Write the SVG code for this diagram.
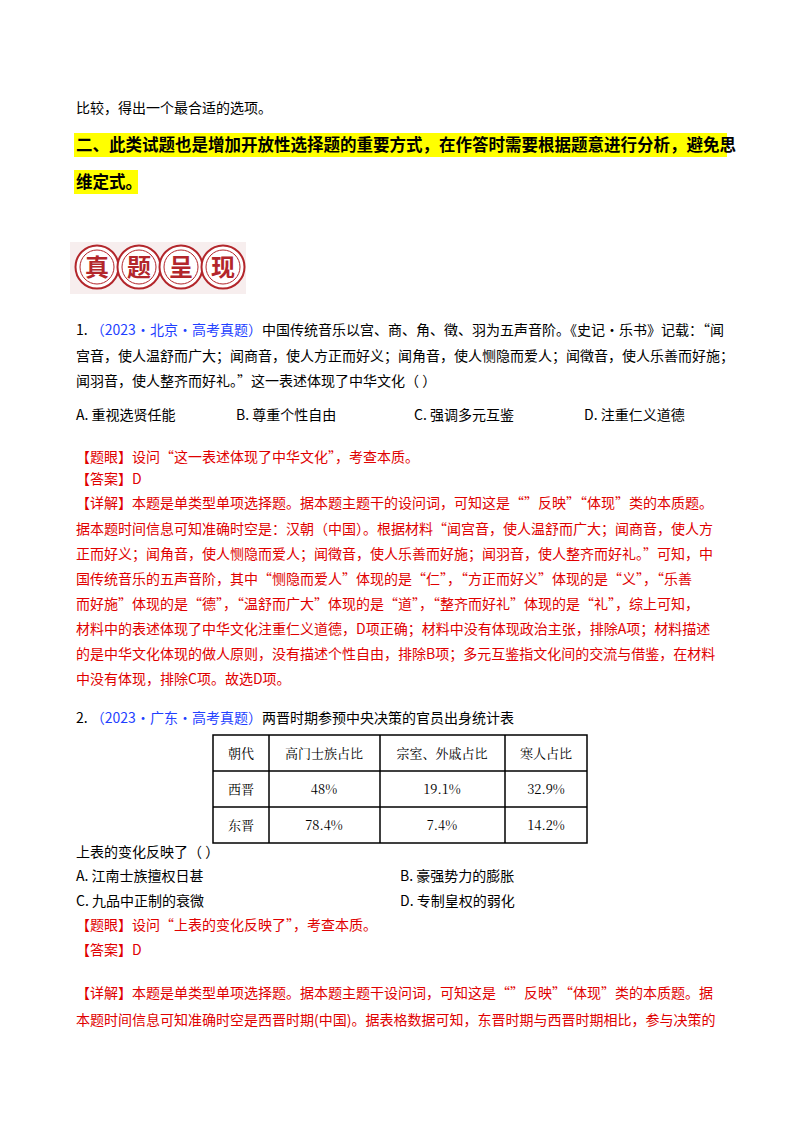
<svg xmlns="http://www.w3.org/2000/svg" width="800" height="1132" viewBox="0 0 800 1132">
<style>
text{font-family:"Noto Sans CJK SC","Liberation Sans",sans-serif;font-size:14px;fill:#000}
.r{fill:#e00000}.b{fill:#1f3fff}.hb{font-weight:bold;font-size:16.5px}
.tb{font-family:"Noto Serif CJK SC","Noto Sans CJK SC",serif;font-size:13px}
.c{fill:#fff;stroke:#b3262b;stroke-width:2}
.c2{fill:none;stroke:#b3262b;stroke-width:1}
.lt{font-size:24px;font-weight:bold;fill:#b3262b}
</style>
<rect width="800" height="1132" fill="#fff"/>
<text x="76" y="113">比较，得出一个最合适的选项。</text>
<rect x="74" y="133" width="653" height="24" fill="#ffff00"/>
<rect x="74" y="170" width="64" height="24" fill="#ffff00"/>
<text x="76" y="151" class="hb">二、此类试题也是增加开放性选择题的重要方式，在作答时需要根据题意进行分析，避免思</text>
<text x="76" y="188" class="hb">维定式。</text>
<g id="logo">
<rect x="70" y="242" width="176" height="52" fill="#f7eeee"/>
<circle cx="97" cy="267" r="21.5" class="c"/><circle cx="97" cy="267" r="17" class="c2"/>
<circle cx="139" cy="267" r="21.5" class="c"/><circle cx="139" cy="267" r="17" class="c2"/>
<circle cx="181" cy="267" r="21.5" class="c"/><circle cx="181" cy="267" r="17" class="c2"/>
<circle cx="223" cy="267" r="21.5" class="c"/><circle cx="223" cy="267" r="17" class="c2"/>
<text x="97" y="276" class="lt" text-anchor="middle">真</text>
<text x="139" y="276" class="lt" text-anchor="middle">题</text>
<text x="181" y="276" class="lt" text-anchor="middle">呈</text>
<text x="223" y="276" class="lt" text-anchor="middle">现</text>
</g>
<text x="76" y="335">1.  <tspan class="b">（2023·北京·高考真题）</tspan>中国传统音乐以宫、商、角、徵、羽为五声音阶。《史记·乐书》记载：“闻</text>
<text x="76" y="361">宫音，使人温舒而广大；闻商音，使人方正而好义；闻角音，使人恻隐而爱人；闻徵音，使人乐善而好施；</text>
<text x="76" y="386">闻羽音，使人整齐而好礼。”这一表述体现了中华文化（  ）</text>
<text x="76" y="420">A. 重视选贤任能</text><text x="236" y="420">B. 尊重个性自由</text><text x="414" y="420">C. 强调多元互鉴</text><text x="584" y="420">D. 注重仁义道德</text>
<text x="76" y="462" class="r">【题眼】设问“这一表述体现了中华文化”，考查本质。</text>
<text x="76" y="484" class="r">【答案】D</text>
<text x="76" y="508" class="r">【详解】本题是单类型单项选择题。据本题主题干的设问词，可知这是“”反映”“体现”类的本质题。</text>
<text x="76" y="534" class="r">据本题时间信息可知准确时空是：汉朝（中国）。根据材料“闻宫音，使人温舒而广大；闻商音，使人方</text>
<text x="76" y="559" class="r">正而好义；闻角音，使人恻隐而爱人；闻徵音，使人乐善而好施；闻羽音，使人整齐而好礼。”可知，中</text>
<text x="76" y="584" class="r">国传统音乐的五声音阶，其中“恻隐而爱人”体现的是“仁”，“方正而好义”体现的是“义”，“乐善</text>
<text x="76" y="609" class="r">而好施”体现的是“德”，“温舒而广大”体现的是“道”，“整齐而好礼”体现的是“礼”，综上可知，</text>
<text x="76" y="634" class="r">材料中的表述体现了中华文化注重仁义道德，D项正确；材料中没有体现政治主张，排除A项；材料描述</text>
<text x="76" y="659" class="r">的是中华文化体现的做人原则，没有描述个性自由，排除B项；多元互鉴指文化间的交流与借鉴，在材料</text>
<text x="76" y="684" class="r">中没有体现，排除C项。故选D项。</text>
<text x="76" y="723">2.  <tspan class="b">（2023·广东·高考真题）</tspan>两晋时期参预中央决策的官员出身统计表</text>
<g id="table" fill="none" stroke="#000" stroke-width="1.5">
<rect x="213" y="735" width="374" height="108"/>
<line x1="213" y1="771" x2="587" y2="771"/><line x1="213" y1="807" x2="587" y2="807"/>
<line x1="269" y1="735" x2="269" y2="843"/><line x1="380" y1="735" x2="380" y2="843"/><line x1="505" y1="735" x2="505" y2="843"/>
</g>
<g text-anchor="middle">
<text class="tb" x="241" y="758">朝代</text><text class="tb" x="324" y="758">高门士族占比</text><text class="tb" x="442" y="758">宗室、外戚占比</text><text class="tb" x="546" y="758">寒人占比</text>
<text class="tb" x="241" y="794">西晋</text><text class="tb" x="324" y="794">48%</text><text class="tb" x="442" y="794">19.1%</text><text class="tb" x="546" y="794">32.9%</text>
<text class="tb" x="241" y="830">东晋</text><text class="tb" x="324" y="830">78.4%</text><text class="tb" x="442" y="830">7.4%</text><text class="tb" x="546" y="830">14.2%</text>
</g>
<text x="76" y="857">上表的变化反映了（      ）</text>
<text x="76" y="881">A. 江南士族擅权日甚</text><text x="400" y="881">B. 豪强势力的膨胀</text>
<text x="76" y="906">C. 九品中正制的衰微</text><text x="400" y="906">D. 专制皇权的弱化</text>
<text x="76" y="930" class="r">【题眼】设问“上表的变化反映了”，考查本质。</text>
<text x="76" y="955" class="r">【答案】D</text>
<text x="76" y="998" class="r">【详解】本题是单类型单项选择题。据本题主题干设问词，可知这是“”反映”“体现”类的本质题。据</text>
<text x="76" y="1025" class="r">本题时间信息可知准确时空是西晋时期(中国)。据表格数据可知，东晋时期与西晋时期相比，参与决策的</text>
</svg>
